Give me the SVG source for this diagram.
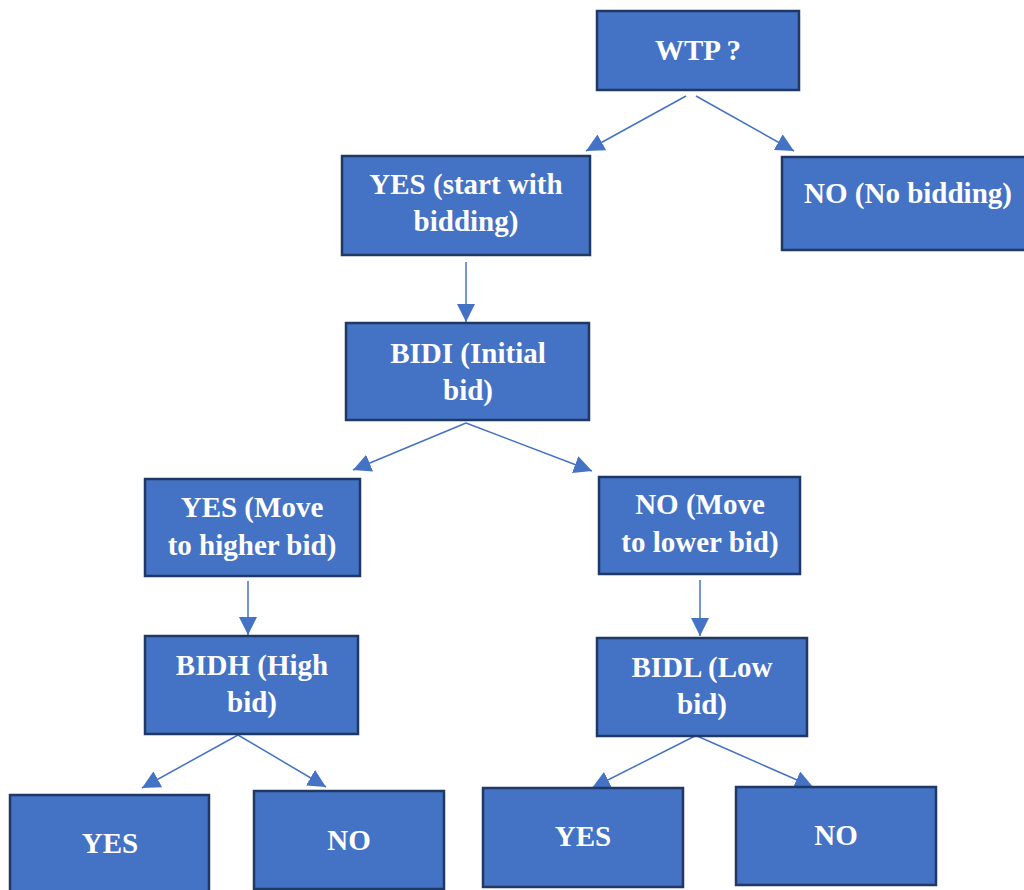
<svg xmlns="http://www.w3.org/2000/svg" width="1024" height="890" viewBox="0 0 1024 890">
<style>
.box{fill:#4472c4;stroke:#1f3864;stroke-width:2.5}
.t{font-family:"Liberation Serif","Times New Roman",serif;font-weight:bold;font-size:29px;fill:#ffffff;text-anchor:middle}
.c{stroke:#4472c4;stroke-width:1.5;fill:none;marker-end:url(#ah)}
</style>
<defs>
<marker id="ah" markerUnits="userSpaceOnUse" markerWidth="19" markerHeight="18" refX="18" refY="9" orient="auto">
<path d="M0,0 L18,9 L0,18 Z" fill="#4472c4"/>
</marker>
</defs>
<rect width="1024" height="890" fill="#ffffff"/>
<g id="connectors">
<line class="c" x1="686" y1="96" x2="586" y2="151"/>
<line class="c" x1="696" y1="96" x2="794" y2="151"/>
<line class="c" x1="466" y1="262" x2="466" y2="322"/>
<line class="c" x1="466" y1="423" x2="353" y2="470"/>
<line class="c" x1="466" y1="423" x2="592" y2="471"/>
<line class="c" x1="248" y1="581" x2="248" y2="635"/>
<line class="c" x1="700" y1="580" x2="700" y2="636"/>
<line class="c" x1="238" y1="735" x2="142" y2="788"/>
<line class="c" x1="238" y1="735" x2="326" y2="787"/>
<line class="c" x1="695" y1="736" x2="592" y2="788"/>
<line class="c" x1="697" y1="736" x2="813" y2="787"/>
</g>
<g id="n-wtp">
<rect class="box" x="597" y="11" width="202" height="79"/>
<text class="t" x="698" y="60">WTP ?</text>
</g>
<g id="n-yes-start">
<rect class="box" x="342" y="156" width="248" height="99"/>
<text class="t" x="466" y="194">YES (start with</text>
<text class="t" x="466" y="231">bidding)</text>
</g>
<g id="n-no-bidding">
<rect class="box" x="782" y="157" width="252" height="93"/>
<text class="t" x="908" y="203">NO (No bidding)</text>
</g>
<g id="n-bidi">
<rect class="box" x="346" y="323" width="243" height="97"/>
<text class="t" x="468" y="363">BIDI (Initial</text>
<text class="t" x="468" y="400">bid)</text>
</g>
<g id="n-yes-move">
<rect class="box" x="145" y="479" width="215" height="97"/>
<text class="t" x="252" y="517">YES (Move</text>
<text class="t" x="252" y="555">to higher bid)</text>
</g>
<g id="n-no-move">
<rect class="box" x="599" y="477" width="201" height="97"/>
<text class="t" x="700" y="514">NO (Move</text>
<text class="t" x="700" y="552">to lower bid)</text>
</g>
<g id="n-bidh">
<rect class="box" x="145" y="636" width="213" height="98"/>
<text class="t" x="252" y="675">BIDH (High</text>
<text class="t" x="252" y="712">bid)</text>
</g>
<g id="n-bidl">
<rect class="box" x="597" y="638" width="210" height="98"/>
<text class="t" x="702" y="677">BIDL (Low</text>
<text class="t" x="702" y="714">bid)</text>
</g>
<g id="n-yes-h">
<rect class="box" x="10" y="795" width="199" height="105"/>
<text class="t" x="110" y="853">YES</text>
</g>
<g id="n-no-h">
<rect class="box" x="254" y="791" width="190" height="98"/>
<text class="t" x="349" y="850">NO</text>
</g>
<g id="n-yes-l">
<rect class="box" x="483" y="788" width="200" height="99"/>
<text class="t" x="583" y="846">YES</text>
</g>
<g id="n-no-l">
<rect class="box" x="736" y="787" width="200" height="98"/>
<text class="t" x="836" y="845">NO</text>
</g>
</svg>
